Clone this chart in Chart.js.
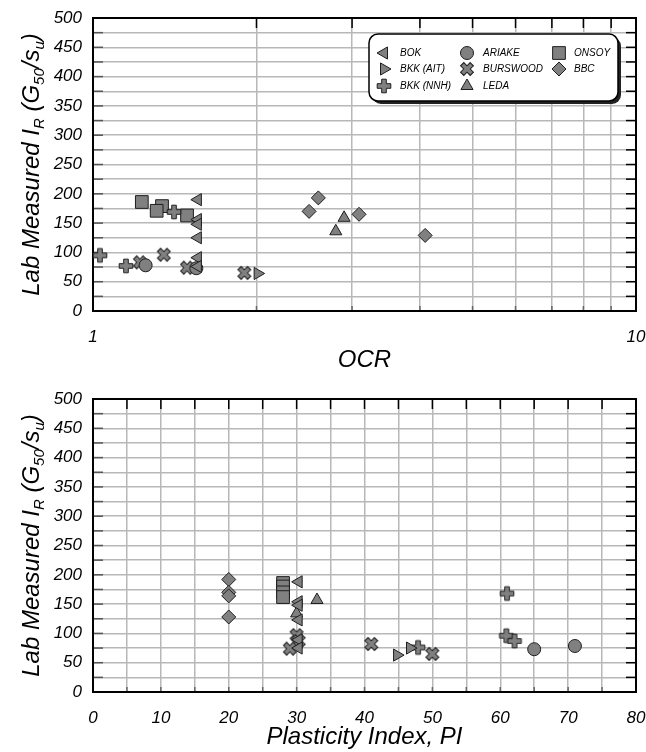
<!DOCTYPE html>
<html lang="en">
<head>
<meta charset="UTF-8">
<title>Lab Measured IR vs OCR and PI</title>
<script src="https://cdn.jsdelivr.net/npm/chart.js"></script>
<style>
    body { margin: 0; background: #fff; }
    canvas { display: block; }
</style>
</head>
<body>
<canvas id="ocrChart" width="646" height="376"></canvas>
<canvas id="piChart" width="646" height="376"></canvas>
<script>
// ---- data ----
const soils = ['BOK', 'BKK (AIT)', 'BKK (NNH)', 'ARIAKE', 'BURSWOOD', 'LEDA', 'ONSOY', 'BBC'];

// top panel: IR against OCR
const ocrBOK = [1.56, 1.56, 1.56, 1.56, 1.56, 1.56];
const irOcrBOK = [190, 156, 148, 125, 91, 76];
const ocrAIT = [2.01];
const irOcrAIT = [64];
const ocrNNH = [1.03, 1.15, 1.41];
const irOcrNNH = [95, 77, 169];
const ocrARIAKE = [1.25, 1.55];
const irOcrARIAKE = [78, 73];
const ocrBURSWOOD = [1.22, 1.35, 1.49, 1.9];
const irOcrBURSWOOD = [83, 96, 74, 65];
const ocrLEDA = [2.9, 2.8];
const irOcrLEDA = [159, 136];
const ocrONSOY = [1.23, 1.34, 1.31, 1.49];
const irOcrONSOY = [186, 179, 171, 163];
const ocrBBC = [2.6, 2.5, 3.09, 4.09];
const irOcrBBC = [193, 170, 165, 129];

// bottom panel: IR against plasticity index
const piBOK = [30.3, 30.3, 30.3, 30.3, 30.3, 30.3];
const irPiBOK = [188, 154, 148, 123, 89, 75];
const piAIT = [44.8, 46.7];
const irPiAIT = [63, 75];
const piNNH = [47.9, 61, 60.9, 62.1];
const irPiNNH = [76, 168, 96, 87];
const piARIAKE = [65, 71];
const irPiARIAKE = [73, 78.5];
const piBURSWOOD = [30, 30.3, 29, 41, 50];
const irPiBURSWOOD = [97, 87, 74, 82, 65];
const piLEDA = [33, 30];
const irPiLEDA = [157, 134];
const piONSOY = [28, 28, 28, 28];
const irPiONSOY = [186, 180, 170, 162];
const piBBC = [20, 20, 20, 20];
const irPiBBC = [192, 170, 164, 128];

// axes
const ocrTicks = [1, 2, 3, 4, 5, 6, 7, 8, 9, 10];
const ocrLabels = [1, 10];

// ---- styling ----
const fontFamily = '"Liberation Sans", Arial, sans-serif';
const tickFont = { family: fontFamily, size: 17, style: 'italic' };
const titleFont = { family: fontFamily, size: 24, style: 'italic' };
const gridColor = '#b8b8b8';
const markerFill = '#808080';
const markerEdge = '#1e1e1e';

function makeCross(angle) {
    const c = document.createElement('canvas');
    c.width = 18; c.height = 18;
    const g = c.getContext('2d');
    g.translate(9, 9);
    g.rotate(angle);
    const a = 6.8, w = 2.3;
    g.beginPath();
    g.moveTo(-w, -a); g.lineTo(w, -a); g.lineTo(w, -w); g.lineTo(a, -w);
    g.lineTo(a, w); g.lineTo(w, w); g.lineTo(w, a); g.lineTo(-w, a);
    g.lineTo(-w, w); g.lineTo(-a, w); g.lineTo(-a, -w); g.lineTo(-w, -w);
    g.closePath();
    g.fillStyle = markerFill;
    g.fill();
    g.strokeStyle = markerEdge;
    g.lineWidth = 1;
    g.stroke();
    return c;
}
const plusMark = makeCross(0);
const xMark = makeCross(Math.PI / 4);

const markers = [
    { pointStyle: 'triangle', pointRotation: -90, pointRadius: 7 },
    { pointStyle: 'triangle', pointRotation: 90, pointRadius: 7 },
    { pointStyle: plusMark, pointRadius: 7 },
    { pointStyle: 'circle', pointRadius: 6.5 },
    { pointStyle: xMark, pointRadius: 7 },
    { pointStyle: 'triangle', pointRadius: 7 },
    { pointStyle: 'rect', pointRadius: 9 },
    { pointStyle: 'rectRot', pointRadius: 7 }
];

function pairs(xs, ys) {
    return xs.map((x, i) => ({ x: x, y: ys[i] }));
}

function makeDatasets(series) {
    return series.map((s, i) => Object.assign({
        label: soils[i],
        data: pairs(s[0], s[1]),
        pointBackgroundColor: markerFill,
        pointBorderColor: markerEdge,
        pointBorderWidth: 1,
        showLine: false
    }, markers[i]));
}

// ---- plugins ----
function tickLine(ctx, x1, y1, x2, y2, color) {
    ctx.strokeStyle = color;
    ctx.lineWidth = 1.5;
    ctx.beginPath();
    ctx.moveTo(x1, y1);
    ctx.lineTo(x2, y2);
    ctx.stroke();
}

const framePlugin = {
    id: 'frame',
    beforeDatasetsDraw(chart) {
        const { ctx, chartArea: a, scales } = chart;
        ctx.save();
        scales.y.ticks.forEach(t => {
            const py = scales.y.getPixelForValue(t.value);
            tickLine(ctx, a.left, py, a.left + 10, py, '#555');
            tickLine(ctx, a.right - 10, py, a.right, py, '#000');
        });
        scales.x.ticks.forEach(t => {
            const px = scales.x.getPixelForValue(t.value);
            tickLine(ctx, px, a.bottom, px, a.bottom - 5, '#666');
            tickLine(ctx, px, a.top, px, a.top + 10, '#000');
        });
        ctx.strokeStyle = '#000';
        ctx.lineWidth = 2;
        ctx.strokeRect(a.left, a.top, a.right - a.left, a.bottom - a.top);
        ctx.restore();
    }
};

const yTitleParts = [['Lab Measured I', false], ['R', true], [' (G', false], ['50', true], ['/s', false], ['u', true], [')', false]];

const yTitlePlugin = {
    id: 'yTitle',
    afterDraw(chart) {
        const { ctx, chartArea: a } = chart;
        const mainFont = 'italic 24px ' + fontFamily;
        const subFont = 'italic 15px ' + fontFamily;
        ctx.save();
        let total = 0;
        yTitleParts.forEach(p => {
            ctx.font = p[1] ? subFont : mainFont;
            total += ctx.measureText(p[0]).width;
        });
        ctx.translate(39, (a.top + a.bottom) / 2);
        ctx.rotate(-Math.PI / 2);
        ctx.fillStyle = '#000';
        ctx.textBaseline = 'alphabetic';
        let x = -total / 2;
        yTitleParts.forEach(p => {
            ctx.font = p[1] ? subFont : mainFont;
            ctx.fillText(p[0], x, p[1] ? 5 : 0);
            x += ctx.measureText(p[0]).width;
        });
        ctx.restore();
    }
};

const legendPlugin = {
    id: 'boxLegend',
    afterDatasetsDraw(chart) {
        const { ctx, chartArea: a } = chart;
        const bx = a.right - 267, by = a.top + 16, bw = 249, bh = 67;
        const colSym = [15, 98, 190], colText = [31, 114, 205], rowY = [19, 35, 52];
        ctx.save();
        ctx.beginPath();
        ctx.roundRect(bx + 3, by + 3, bw, bh, 9);
        ctx.fillStyle = '#222';
        ctx.fill();
        ctx.beginPath();
        ctx.roundRect(bx, by, bw, bh, 9);
        ctx.fillStyle = '#fff';
        ctx.fill();
        ctx.strokeStyle = '#000';
        ctx.lineWidth = 1.5;
        ctx.stroke();
        chart.data.datasets.forEach((ds, i) => {
            const col = Math.floor(i / 3), row = i % 3;
            const sy = by + rowY[row];
            ctx.fillStyle = ds.pointBackgroundColor;
            ctx.strokeStyle = ds.pointBorderColor;
            ctx.lineWidth = 1;
            Chart.helpers.drawPoint(ctx, {
                pointStyle: ds.pointStyle,
                radius: ds.pointRadius,
                rotation: ds.pointRotation || 0,
                borderWidth: 1
            }, bx + colSym[col], sy);
            ctx.fillStyle = '#000';
            ctx.font = 'italic 10px ' + fontFamily;
            ctx.textAlign = 'left';
            ctx.textBaseline = 'middle';
            ctx.fillText(ds.label, bx + colText[col], sy);
        });
        ctx.restore();
    }
};

// ---- chart builder ----
function yScale() {
    return {
        min: 0,
        max: 500,
        ticks: {
            stepSize: 25,
            autoSkip: false,
            padding: 11,
            color: '#000',
            font: tickFont,
            callback: v => (v % 50 === 0 ? String(v) : '')
        },
        grid: { color: gridColor, lineWidth: 1.5, drawTicks: false },
        border: { display: false },
        afterFit: s => { s.width = 93; s.paddingTop = 0; s.paddingBottom = 0; }
    };
}

function xCommon(title, axisHeight, titlePad) {
    return {
        ticks: {
            autoSkip: false,
            maxRotation: 0,
            padding: 16,
            color: '#000',
            font: tickFont
        },
        grid: { color: gridColor, lineWidth: 1.5, drawTicks: false },
        border: { display: false },
        title: { display: true, text: title, color: '#000', font: titleFont, padding: { top: 0, bottom: titlePad } },
        afterFit: s => { s.height = axisHeight; s.paddingLeft = 0; s.paddingRight = 0; }
    };
}

const ocrX = xCommon('OCR', 65, 1);
ocrX.type = 'logarithmic';
ocrX.min = 1;
ocrX.max = 10;
ocrX.afterBuildTicks = s => { s.ticks = ocrTicks.map(v => ({ value: v })); };
ocrX.ticks.callback = v => (ocrLabels.includes(v) ? String(v) : '');

new Chart(document.getElementById('ocrChart'), {
    type: 'scatter',
    data: {
        datasets: makeDatasets([
            [ocrBOK, irOcrBOK], [ocrAIT, irOcrAIT], [ocrNNH, irOcrNNH], [ocrARIAKE, irOcrARIAKE],
            [ocrBURSWOOD, irOcrBURSWOOD], [ocrLEDA, irOcrLEDA], [ocrONSOY, irOcrONSOY], [ocrBBC, irOcrBBC]
        ])
    },
    options: {
        responsive: false,
        animation: false,
        layout: { padding: { top: 18, right: 10, left: 0, bottom: 0 } },
        plugins: { legend: { display: false }, tooltip: { enabled: false } },
        scales: { x: ocrX, y: yScale() }
    },
    plugins: [framePlugin, legendPlugin, yTitlePlugin]
});

const piX = xCommon('Plasticity Index, PI', 60, 0);
piX.type = 'linear';
piX.min = 0;
piX.max = 80;
piX.ticks.stepSize = 5;
piX.ticks.callback = v => (v % 10 === 0 ? String(v) : '');

new Chart(document.getElementById('piChart'), {
    type: 'scatter',
    data: {
        datasets: makeDatasets([
            [piBOK, irPiBOK], [piAIT, irPiAIT], [piNNH, irPiNNH], [piARIAKE, irPiARIAKE],
            [piBURSWOOD, irPiBURSWOOD], [piLEDA, irPiLEDA], [piONSOY, irPiONSOY], [piBBC, irPiBBC]
        ])
    },
    options: {
        responsive: false,
        animation: false,
        layout: { padding: { top: 23, right: 10, left: 0, bottom: 0 } },
        plugins: { legend: { display: false }, tooltip: { enabled: false } },
        scales: { x: piX, y: yScale() }
    },
    plugins: [framePlugin, yTitlePlugin]
});
</script>
</body>
</html>
